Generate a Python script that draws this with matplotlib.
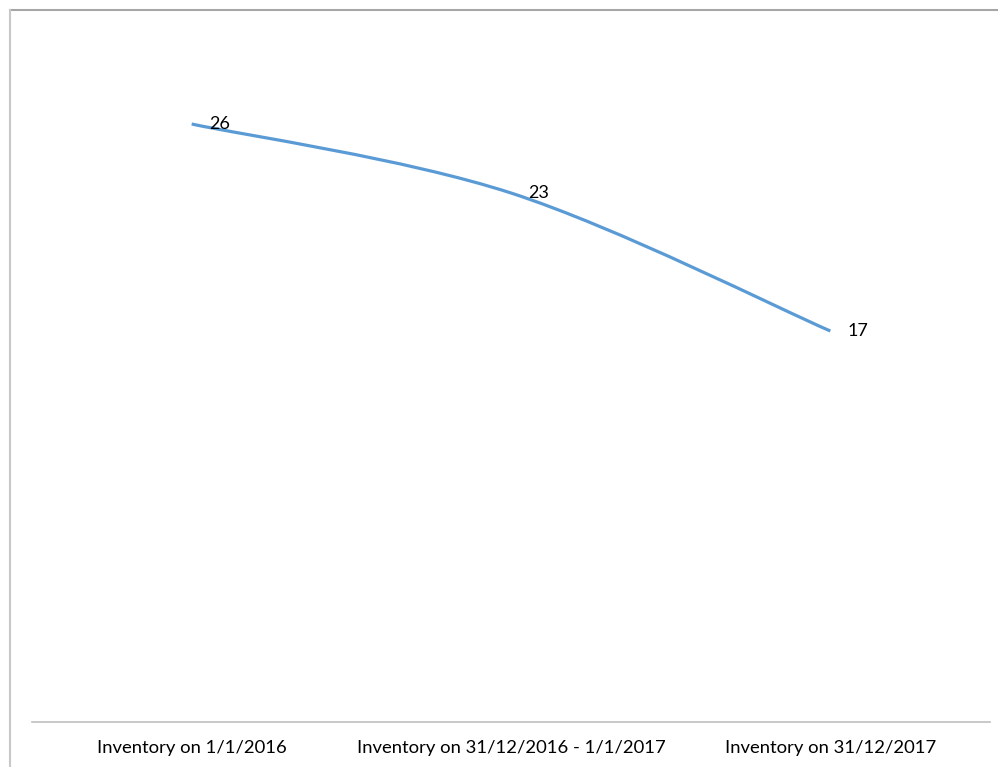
import matplotlib.pyplot as plt
from matplotlib.path import Path
from matplotlib.patches import PathPatch
from matplotlib.lines import Line2D

plt.rcParams['font.family'] = ['Lato', 'DejaVu Sans']

categories = ['Inventory on 1/1/2016', 'Inventory on 31/12/2016 - 1/1/2017', 'Inventory on 31/12/2017']
values = [26, 23, 17]

fig = plt.figure(figsize=(9.98, 7.67), dpi=100)
W, H = 998, 767
ax = fig.add_axes([32 / W, (H - 722) / H, (990 - 32) / W, (722 - 32) / H])

xs = list(range(len(values)))

# smoothed line: cubic bezier segments with catmull-rom style control points
verts = [(xs[0], values[0])]
codes = [Path.MOVETO]
n = len(values)
for i in range(n - 1):
    p0 = (xs[max(i - 1, 0)], values[max(i - 1, 0)])
    p1 = (xs[i], values[i])
    p2 = (xs[i + 1], values[i + 1])
    p3 = (xs[min(i + 2, n - 1)], values[min(i + 2, n - 1)])
    c1 = (p1[0] + (p2[0] - p0[0]) / 6, p1[1] + (p2[1] - p0[1]) / 6)
    c2 = (p2[0] - (p3[0] - p1[0]) / 6, p2[1] - (p3[1] - p1[1]) / 6)
    verts += [c1, c2, p2]
    codes += [Path.CURVE4] * 3
ax.add_patch(PathPatch(Path(verts, codes), facecolor='none', edgecolor='#5B9BD5',
                       lw=2.3, capstyle='butt'))

for x, v in zip(xs, values):
    ax.annotate(str(v), (x, v), xytext=(12.5, 0), textcoords='offset points',
                ha='left', va='center', fontsize=13, color='black')

ax.set_xlim(-0.5, n - 0.5)
ax.set_ylim(0, 30)
ax.set_xticks(xs)
ax.set_xticklabels(categories, fontsize=13.3)
ax.tick_params(axis='x', length=0, pad=13)
ax.set_yticks([])
for side in ['top', 'right', 'left']:
    ax.spines[side].set_visible(False)
ax.spines['bottom'].set_color('#BFBFBF')
ax.spines['bottom'].set_linewidth(1.2)

# outer chart border (top and left edges)
fig.add_artist(Line2D([10 / W, 1], [1 - 10 / H, 1 - 10 / H], color='#A6A6A6', lw=1.5,
                      transform=fig.transFigure))
fig.add_artist(Line2D([10 / W, 10 / W], [0, 1 - 10 / H], color='#C8C8C8', lw=1.5,
                      transform=fig.transFigure))

fig.savefig('out.png', dpi=100)
